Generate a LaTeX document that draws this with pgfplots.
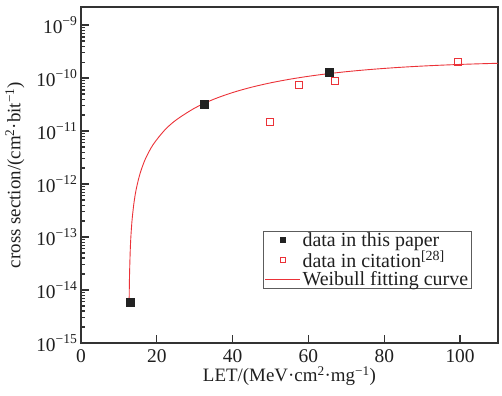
\documentclass[border=0pt]{standalone}
\usepackage{fontspec}
\setmainfont{Liberation Serif}
\usepackage{pgfplots}
\pgfplotsset{compat=1.18}
\definecolor{axgray}{HTML}{333333}
\definecolor{myred}{HTML}{EB3238}
\definecolor{sqblack}{HTML}{222222}
\pgfplotsset{
  legmarks/.style={legend image code/.code={\draw[mark repeat=2,mark phase=2,##1,mark size=2.6bp] plot coordinates {(0bp,0bp) (17.5bp,0bp) (35bp,0bp)};}},
  legline/.style={legend image code/.code={\draw[##1] (0bp,0bp) -- (35bp,0bp);}},
}
\begin{document}
\begin{tikzpicture}
\begin{axis}[
  scale only axis,
  width=417bp, height=336bp,
  xmin=0, xmax=110,
  ymode=log, ymin=1e-15, ymax=2.2e-9,
  xtick={0,20,40,60,80,100},
  ytick={1e-15,1e-14,1e-13,1e-12,1e-11,1e-10,1e-9},
  yticklabels={10\textsuperscript{−15},10\textsuperscript{−14},10\textsuperscript{−13},10\textsuperscript{−12},10\textsuperscript{−11},10\textsuperscript{−10},10\textsuperscript{−9}},
  /pgf/number format/assume math mode=true,
  tick align=inside,
  xtick pos=bottom, ytick pos=left,
  axis line style={draw=axgray, line width=1.6bp},
  every tick/.style={draw=axgray, line width=1.3bp},
  major tick length=8bp, minor tick length=4.5bp,
  tick label style={font=\fontsize{19.5}{21}\selectfont, text=axgray!60!black},
  xticklabel style={yshift=-3bp},
  label style={font=\fontsize{19}{21}\selectfont, text=axgray!60!black},
  xlabel={LET/(MeV·cm\textsuperscript{2}·mg\textsuperscript{−1})},
  ylabel={cross section/(cm\textsuperscript{2}·bit\textsuperscript{−1})},
  xlabel style={yshift=3bp},
  ylabel style={yshift=5bp},
  clip=false,
  legend style={at={(0.9376,0.1607)}, anchor=south east, draw=axgray!80, line width=0.7bp,
    font=\fontsize{20}{21}\selectfont, text=axgray!60!black, inner xsep=1.5bp, inner ysep=1.5bp,
    nodes={inner ysep=0bp}, row sep=2.6bp, cells={anchor=west}},
]
\path (rel axis cs:-0.1942,-0.1548) rectangle (rel axis cs:1.0096,1.0208);
\addplot[only marks, mark=square*, mark size=4bp, mark options={draw=sqblack, fill=sqblack}, legmarks]
  coordinates {(12.9,6e-15) (32.4,3.25e-11) (65.4,1.3e-10)};
\addlegendentry{data in this paper}
\addplot[only marks, mark=square, mark size=3.6bp, mark options={draw=myred, line width=0.9bp}, legmarks]
  coordinates {(49.9,1.48e-11) (57.4,7.4e-11) (66.9,8.9e-11) (99.5,2.0e-10)};
\addlegendentry{data in citation\textsuperscript{[28]}}
\addplot[myred, line width=0.9bp, smooth, no marks, legline]
  coordinates {
  (12.7,5.85e-15) (12.8,1.835e-14) (13.0,5.76e-14) (13.2,1.125e-13) (13.5,2.195e-13)
  (14.0,4.548e-13) (14.6,8.19e-13) (15.6,1.596e-12) (17.0,2.994e-12) (19.0,5.52e-12)
  (22.0,1.029e-11) (25.0,1.602e-11) (30.0,2.722e-11) (35.0,3.986e-11) (40.0,5.34e-11)
  (45.0,6.74e-11) (50.0,8.14e-11) (55.0,9.51e-11) (60.0,1.083e-10) (65.0,1.207e-10)
  (70.0,1.323e-10) (75.0,1.429e-10) (80.0,1.525e-10) (85.0,1.612e-10) (90.0,1.688e-10)
  (95.0,1.755e-10) (100.0,1.813e-10) (105.0,1.863e-10) (110.0,1.906e-10)};
\addlegendentry{Weibull fitting curve\hspace{16bp}}
\end{axis}
\end{tikzpicture}
\end{document}
